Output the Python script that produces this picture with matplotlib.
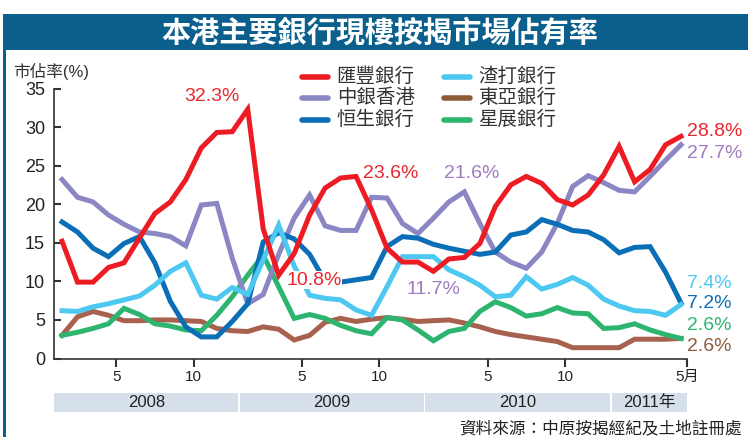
import numpy as np
import matplotlib.pyplot as plt
from matplotlib.lines import Line2D
from matplotlib.patches import Rectangle

plt.rcParams['font.family'] = ['Liberation Sans', 'Noto Sans CJK TC']

W, H = 748, 437

# month index: 0 = Jan 2008 ... 40 = May 2011
months = np.arange(41)

hsbc = [15.2, 9.9, 9.9, 11.8, 12.4, 15.6, 18.8, 20.3, 23.2, 27.3,
        29.3, 29.4, 32.3, 16.8, 10.8, 13.6, 18.6, 22.1, 23.4, 23.6,
        19.3, 14.3, 12.5, 12.5, 11.3, 12.9, 13.1, 14.9, 19.7, 22.5,
        23.6, 22.7, 20.6, 19.9, 21.2, 23.8, 27.5, 22.9, 24.5, 27.7, 28.8]
boc = [23.2, 20.9, 20.3, 18.6, 17.4, 16.4, 16.2, 15.8, 14.6, 19.9,
       20.1, 13.0, 7.1, 8.3, 13.5, 18.2, 21.2, 17.2, 16.6, 16.6,
       20.9, 20.8, 17.5, 16.2, 18.2, 20.3, 21.6, 17.5, 13.8, 12.5,
       11.7, 13.8, 17.5, 22.3, 23.7, 22.8, 21.8, 21.6, 23.6, 25.7, 27.7]
hang_seng = [17.7, 16.4, 14.3, 13.2, 14.9, 15.8, 12.4, 7.4, 4.1, 2.8,
             2.8, 4.8, 7.1, 15.1, 16.3, 15.5, 13.5, 10.0, 9.9, 10.2,
             10.5, 14.5, 15.8, 15.6, 14.8, 14.3, 13.9, 13.5, 13.8, 16.0,
             16.4, 18.0, 17.4, 16.6, 16.4, 15.4, 13.7, 14.4, 14.5, 11.2, 7.2]
stanchart = [6.2, 6.1, 6.7, 7.1, 7.6, 8.1, 9.5, 11.3, 12.4, 8.2,
             7.7, 9.2, 8.3, 12.8, 17.3, 12.0, 8.2, 7.8, 7.6, 6.3,
             5.6, 9.3, 13.2, 13.2, 13.2, 11.5, 10.6, 9.5, 8.0, 8.2,
             10.6, 9.0, 9.6, 10.5, 9.5, 7.7, 6.8, 6.2, 6.1, 5.6, 7.0]
bea = [3.0, 5.4, 6.1, 5.6, 4.9, 4.9, 5.0, 5.0, 4.9, 4.8,
       3.9, 3.6, 3.5, 4.1, 3.8, 2.4, 3.0, 4.7, 5.2, 4.8,
       5.1, 5.3, 5.1, 4.8, 4.9, 5.0, 4.6, 4.1, 3.5, 3.1,
       2.8, 2.5, 2.2, 1.4, 1.4, 1.4, 1.4, 2.5, 2.5, 2.5, 2.6]
dbs = [3.0, 3.4, 3.9, 4.5, 6.5, 5.7, 4.5, 4.2, 3.7, 3.6,
       5.6, 8.0, 10.8, 13.4, 9.3, 5.2, 5.7, 5.2, 4.3, 3.6,
       3.2, 5.3, 5.0, 3.7, 2.3, 3.5, 3.9, 6.1, 7.35, 6.6,
       5.5, 5.8, 6.6, 5.9, 5.8, 3.9, 4.0, 4.5, 3.7, 3.1, 2.6]

bank_names = ['匯豐銀行', '中銀香港', '恒生銀行', '渣打銀行', '東亞銀行', '星展銀行']

x_tick_pos = [3.5, 8.5, 15.5, 20.5, 27.5, 32.5, 40.4]
x_tick_labels = ['5', '10', '5', '10', '5', '10', '5月']
years = ['2008', '2009', '2010', '2011年']
year_edges = [-0.52, 11.44, 23.42, 35.5, 40.45]

c_red = '#ED1C24'
c_purple = '#8B86C4'
c_blue = '#0A6FB7'
c_cyan = '#4DC8F1'
c_brown = '#A8614F'
c_green = '#2DB570'
c_frame = '#0A5F8C'
c_text = '#333333'


def fx(px):
    return px / W


def fy(py):
    return 1 - py / H


fig = plt.figure(figsize=(W / 100, H / 100), dpi=100)

# title bar and left border
fig.add_artist(Rectangle((fx(3), fy(50)), 1 - fx(3), fy(14) - fy(50),
                         transform=fig.transFigure, color=c_frame, lw=0))
fig.add_artist(Rectangle((fx(3), 0), fx(3), fy(50),
                         transform=fig.transFigure, color=c_frame, lw=0))
fig.text(fx(380), fy(33), '本港主要銀行現樓按揭市場佔有率', color='white',
         fontsize=21, fontweight='bold', ha='center', va='center')

# main axes
ax = fig.add_axes([fx(54), fy(358.5), fx(687.2) - fx(54), fy(88.5) - fy(358.5)])
ax.set_xlim(-0.52, 40.4)
ax.set_ylim(0, 35)

lw = 3.6
series = [(bea, c_brown), (dbs, c_green), (boc, c_purple),
          (hang_seng, c_blue), (stanchart, c_cyan), (hsbc, c_red)]
for vals, col in series:
    ax.plot(months, vals, color=col, lw=lw, solid_joinstyle='miter', zorder=3)

for side in ['top', 'right']:
    ax.spines[side].set_visible(False)
for side in ['left', 'bottom']:
    ax.spines[side].set_color(c_text)
    ax.spines[side].set_linewidth(1.2)

ax.set_yticks(range(0, 36, 5))
ax.tick_params(axis='y', direction='in', length=5, width=1.5, color=c_text,
               labelsize=13, pad=6.5, labelcolor='#222222')
ax.set_xticks(x_tick_pos)
ax.set_xticklabels(x_tick_labels)
ax.tick_params(axis='x', direction='out', length=5.5, width=1.5, color=c_text,
               labelsize=11, pad=3, labelcolor='#222222')

fig.text(fx(13), fy(71), '市佔率(%)', fontsize=12, color=c_text,
         ha='left', va='center')

# value labels
def label(txt, i, v, dx, dy, col, ha='center', box=False):
    kw = {}
    if box:
        kw['bbox'] = dict(facecolor='white', edgecolor='none', pad=0.5)
    ax.annotate(txt, xy=(i, v), xytext=(dx, dy), textcoords='offset pixels',
                ha=ha, va='center', color=col, fontsize=14, zorder=6, **kw)

label('32.3%', 12, hsbc[12], -36, 12.6, '#E8262D')
label('23.6%', 19, hsbc[19], 35, 2.6, '#E8262D')
label('21.6%', 26, boc[26], 7.6, 18, '#A07BC0')
label('10.8%', 14, hsbc[14], 35.3, -5, '#E8262D', box=True)
label('11.7%', 30, boc[30], -93.3, -20.8, '#A07BC0')
label('28.8%', 40, hsbc[40], 6, 4.5, '#E8262D', ha='left')
label('27.7%', 40, boc[40], 6, -9, '#A07BC0', ha='left')
label('7.4%', 40, stanchart[40], 6, 21, c_cyan, ha='left')
label('7.2%', 40, hang_seng[40], 6, -1, c_blue, ha='left')
label('2.6%', 40, dbs[40], 6, 13, c_green, ha='left')
label('2.6%', 40, bea[40], 6, -8, '#8C5B3A', ha='left')

# legend (drawn by hand to match spacing)
leg_colors = [c_red, c_purple, c_blue, c_cyan, '#8C5B3A', c_green]
row_y = [77, 98, 120]
col_x = [(301.7, 328.3, 336.7), (444, 470, 478)]
for k, (name, col) in enumerate(zip(bank_names, leg_colors)):
    cx = col_x[k // 3]
    ry = row_y[k % 3]
    fig.add_artist(Line2D([fx(cx[0]), fx(cx[1])], [fy(ry), fy(ry)],
                          transform=fig.transFigure, color=col, lw=4,
                          solid_capstyle='round'))
    fig.text(fx(cx[2]), fy(ry), name, fontsize=14, color=c_text,
             ha='left', va='center')

# year band
bx = fig.add_axes([fx(54), fy(412), fx(687.2) - fx(54), fy(393) - fy(412)],
                  sharex=ax)
bx.set_ylim(0, 1)
bx.axis('off')
gap = 0.06
for k, yr in enumerate(years):
    a, b = year_edges[k], year_edges[k + 1]
    bx.axvspan(a + (gap if k > 0 else 0), b - (gap if k < len(years) - 1 else 0),
               color='#D6E0EA', lw=0)
    bx.text((a + b) / 2, 0.5, yr, fontsize=12, color='#222222',
            ha='center', va='center')

fig.text(fx(742), fy(428), '資料來源：中原按揭經紀及土地註冊處', fontsize=12,
         color='#222222', ha='right', va='center')

fig.savefig('out.png', dpi=100)
